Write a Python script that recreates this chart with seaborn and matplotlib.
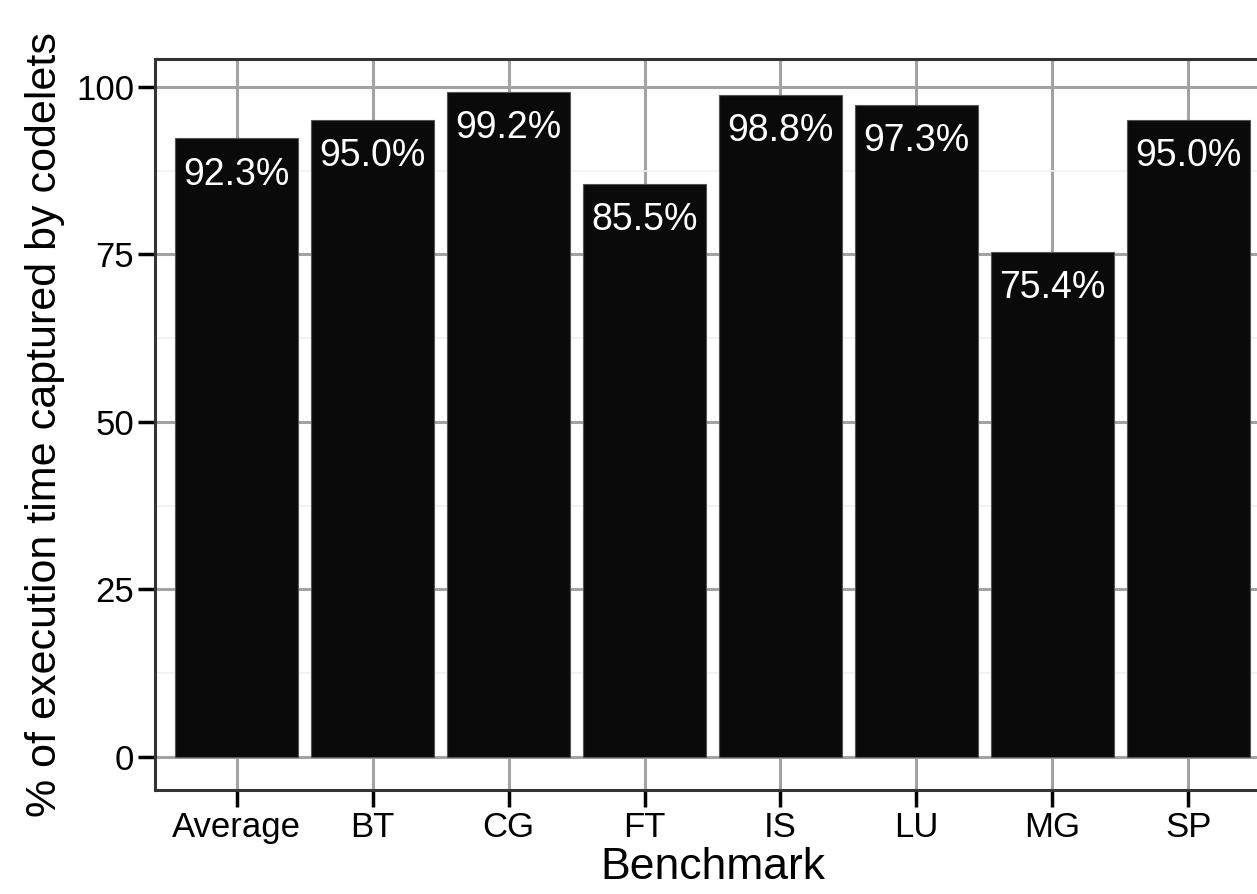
import matplotlib
matplotlib.use('Agg')
import matplotlib.pyplot as plt
import numpy as np
import pandas as pd
import seaborn as sns
from matplotlib.ticker import MultipleLocator

benchmarks = ['Average', 'BT', 'CG', 'FT', 'IS', 'LU', 'MG', 'SP']
captured = [92.3, 95.0, 99.2, 85.5, 98.8, 97.3, 75.4, 95.0]
labels = ['92.3%', '95.0%', '99.2%', '85.5%', '98.8%', '97.3%', '75.4%', '95.0%']

df = pd.DataFrame({'Benchmark': benchmarks, 'pct': captured})

##
sns.set_style('white')
plt.rcParams['font.family'] = ['Liberation Sans', 'DejaVu Sans']
plt.rcParams['text.color'] = 'black'
plt.rcParams['axes.labelcolor'] = 'black'
plt.rcParams['xtick.color'] = 'black'
plt.rcParams['ytick.color'] = 'black'

fig = plt.figure(figsize=(12.57, 8.94), dpi=100)
# panel runs past the right edge, like the cropped original
ax = fig.add_axes([155 / 1257, 104 / 894, 1115 / 1257, 731 / 894])

sns.barplot(data=df, x='Benchmark', y='pct', color='#0a0a0a', saturation=1,
            width=0.9, edgecolor='#555555', linewidth=0.8, ax=ax, zorder=3)

##
ax.set_xlim(-0.6, len(benchmarks) - 0.4)
ax.set_ylim(-4.96, 104.16)
ax.yaxis.set_major_locator(MultipleLocator(25))
ax.yaxis.set_minor_locator(MultipleLocator(12.5))

ax.grid(which='major', color='#a3a3a3', linewidth=2.2, zorder=0)
ax.grid(which='minor', axis='y', color='#f0f0f0', linewidth=1.2, zorder=0)
ax.set_axisbelow(True)

for sp in ax.spines.values():
  sp.set_color('#333333')
  sp.set_linewidth(2.2)

ax.tick_params(axis='both', which='major', bottom=True, left=True, length=12,
               width=2.5, color='black', labelsize=25, pad=3)
ax.tick_params(axis='y', which='minor', length=0)

ax.set_xlabel('Benchmark', fontsize=32, labelpad=2)
ax.set_ylabel('% of execution time captured by codelets', fontsize=31, labelpad=8)

##
for i, (v, lab) in enumerate(zip(captured, labels)):
  ax.annotate(lab, xy=(i, v), xytext=(0, -13), textcoords='offset points',
              ha='center', va='top', color='white', fontsize=27, zorder=5)

plt.savefig('out.png', dpi=100)
